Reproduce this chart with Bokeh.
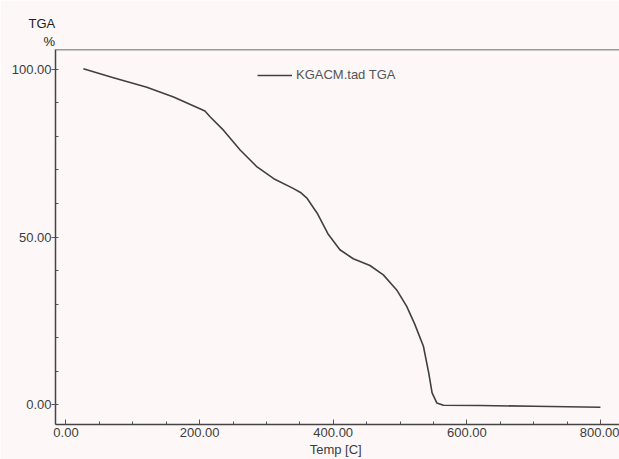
from bokeh.plotting import figure
from bokeh.models import (FixedTicker, PrintfTickFormatter, Range1d, Span, Title,
                          Legend, LegendItem)
from bokeh.embed import file_html
from bokeh.resources import INLINE

# TGA run KGACM.tad: sample temperature (C) and remaining mass (%)
temp_c = [26, 71, 121, 161, 208, 216, 236, 261, 286, 311, 340, 351, 361, 376, 392,
          410, 430, 455, 475, 495, 510, 522, 535, 543, 548, 555, 565, 620, 700, 800]
mass_pct = [100.2, 97.5, 94.7, 91.8, 87.6, 85.8, 81.8, 75.9, 70.9, 67.4, 64.5, 63.3,
            61.5, 57.1, 51.0, 46.2, 43.5, 41.5, 38.7, 34.2, 29.3, 24.0, 17.4, 9.4,
            3.5, 0.5, -0.2, -0.3, -0.5, -0.8]

x_major = [0, 200, 400, 600, 800]
x_minor = list(range(0, 801, 50))
y_major = [0, 50, 100]
y_minor = list(range(0, 101, 10))

series_name = "KGACM.tad TGA"
x_title = "Temp  [C]"
y_title = "TGA"
y_unit = "%"

FONT = "Liberation Sans"
INK = "#3c3c3c"
PAPER = "#fdf8f7"

p = figure(width=619, height=459, output_backend="svg", toolbar_location=None,
           x_range=Range1d(-15.7, 828.5), y_range=Range1d(-5.95, 105.95),
           min_border_left=55, min_border_right=0, min_border_top=49,
           min_border_bottom=33)
p.background_fill_color = PAPER
p.border_fill_color = PAPER
p.outline_line_color = None
p.grid.visible = False

line = p.line(temp_c, mass_pct, line_color="#404040", line_width=1.6,
              line_join="round")

# frame top edge
p.add_layout(Span(location=105.95, dimension="width", line_color="#2f3a48",
                  line_width=1.5))

for ax in (p.xaxis[0], p.yaxis[0]):
    ax.axis_line_color = "#444444"
    ax.axis_line_width = 1.5
    ax.major_tick_line_color = "#555555"
    ax.minor_tick_line_color = "#555555"
    ax.major_label_text_font = FONT
    ax.major_label_text_font_size = "13px"
    ax.major_label_text_color = INK
    ax.formatter = PrintfTickFormatter(format="%.2f")

xa = p.xaxis[0]
xa.ticker = FixedTicker(ticks=x_major, minor_ticks=x_minor)
xa.major_tick_in = 5
xa.major_tick_out = 0
xa.minor_tick_in = 3
xa.minor_tick_out = 0
xa.major_label_standoff = 3
xa.axis_label = x_title
xa.axis_label_standoff = 2
xa.axis_label_text_font = FONT
xa.axis_label_text_font_style = "normal"
xa.axis_label_text_font_size = "13px"
xa.axis_label_text_color = INK

ya = p.yaxis[0]
ya.ticker = FixedTicker(ticks=y_major, minor_ticks=y_minor)
ya.major_tick_in = 0
ya.major_tick_out = 4
ya.minor_tick_in = 3
ya.minor_tick_out = 0
ya.major_label_standoff = 0

# y axis name and unit, stacked above the frame's top-left corner
p.add_layout(Title(text=y_unit, align="left", offset=-12, standoff=2,
                   text_font=FONT, text_font_size="13px",
                   text_font_style="normal", text_color="#222222"), "above")
p.add_layout(Title(text=y_title, align="left", offset=-27, standoff=0,
                   text_font=FONT, text_font_size="13px",
                   text_font_style="normal", text_color="#222222"), "above")

legend = Legend(items=[LegendItem(label=series_name, renderers=[line])],
                location=(202, 342), padding=0, margin=0, spacing=0,
                glyph_width=35, glyph_height=14, label_height=14,
                label_standoff=4, border_line_color=None,
                background_fill_alpha=0, label_text_font=FONT,
                label_text_font_size="13px", label_text_color="#555555")
p.add_layout(legend)

open("out.html", "w").write(file_html(p, INLINE))
